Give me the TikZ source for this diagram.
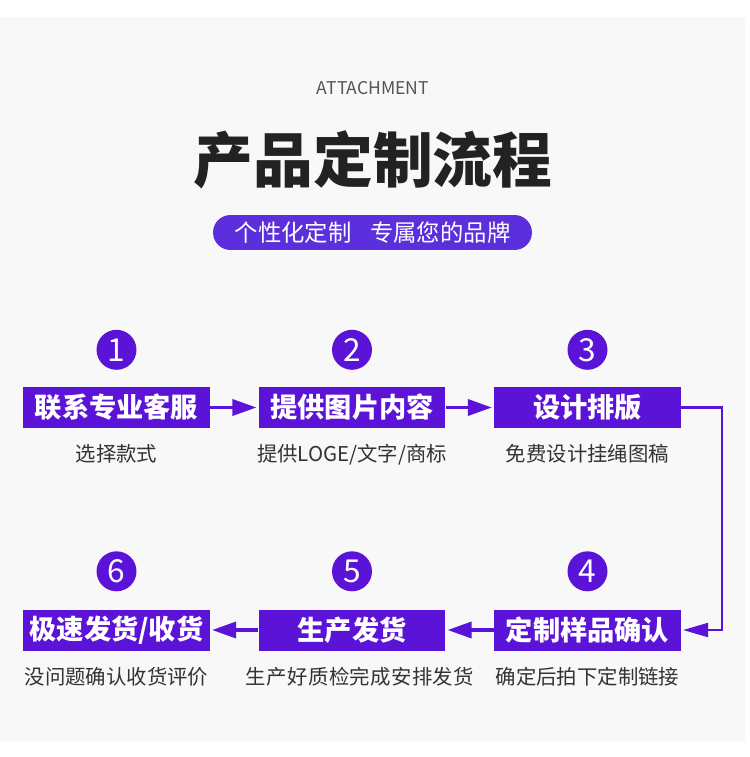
\documentclass[tikz,border=0pt]{standalone}
\usepackage{fontspec}
\setmainfont{Noto Sans CJK SC}
\usetikzlibrary{arrows.meta,positioning}

\definecolor{bgpanel}{HTML}{F8F8F8}
\definecolor{stepviolet}{HTML}{5C13D8}
\definecolor{pillviolet}{HTML}{5B2FDB}
\definecolor{titleink}{HTML}{222222}
\definecolor{attachink}{HTML}{555555}
\definecolor{labelink}{HTML}{333333}

\begin{document}
\begin{tikzpicture}[
  x=0.02cm, y=-0.02cm,
  stepbox/.style={fill=stepviolet, text=white, inner sep=0pt,
    minimum width=3.74cm, minimum height=0.82cm,
    font=\bfseries\fontsize{15.5pt}{18pt}\selectfont},
  stepnum/.style={circle, fill=stepviolet, text=white, inner sep=0pt,
    minimum size=0.8cm, font=\fontsize{18pt}{20pt}\selectfont},
  steplabel/.style={text=labelink, inner sep=0pt,
    font=\fontsize{11.6pt}{14pt}\selectfont},
  pill/.style={fill=pillviolet, text=white, rounded corners=0.35cm,
    minimum width=6.38cm, minimum height=0.7cm,
    font=\fontsize{13.3pt}{16pt}\selectfont},
  flowedge/.style={stepviolet, line width=2pt, shorten >=1pt,
    -{Triangle[length=0.48cm, width=0.32cm]}}
]
\useasboundingbox (0,0) rectangle (750,757);
\fill[white] (0,0) rectangle (750,757);
\fill[bgpanel] (0,17) rectangle (745,742);

% header
\node[text=attachink, font=\fontsize{10pt}{12pt}\selectfont] (attach) at (373,88) {ATTACHMENT};
\node[text=titleink, font=\bfseries\fontsize{34pt}{40pt}\selectfont] (title) at (373,160) {产品定制流程};
\node[pill] (slogan) at (372.5,232.5) {个性化定制\hspace{0.8em}专属您的品牌};

% first row
\node[stepbox] (contact) at (116.5,407.5) {联系专业客服};
\node[stepbox] (supply) at (352,407.5) {提供图片内容};
\node[stepbox] (design) at (587.5,407.5) {设计排版};
\node[stepnum, above=0.33cm of contact] (numa) {1};
\node[stepnum, above=0.33cm of supply] (numb) {2};
\node[stepnum, above=0.33cm of design] (numc) {3};
\node[steplabel, below=0.32cm of contact] (tipa) {选择款式};
\node[steplabel, below=0.32cm of supply] (tipb) {提供LOGE/文字/商标};
\node[steplabel, below=0.32cm of design] (tipc) {免费设计挂绳图稿};

% second row
\node[stepbox] (sample) at (587.5,630) {定制样品确认};
\node[stepbox] (produce) at (352,630) {生产发货};
\node[stepbox] (ship) at (116.5,630) {极速发货/收货};
\node[stepnum, above=0.35cm of sample] (numd) {4};
\node[stepnum, above=0.35cm of produce] (nume) {5};
\node[stepnum, above=0.35cm of ship] (numf) {6};
\node[steplabel, below=0.32cm of sample] (tipd) {确定后拍下定制链接};
\node[steplabel, below=0.32cm of produce, xshift=0.16cm, font=\addfontfeature{LetterSpace=2}\fontsize{11.6pt}{14pt}\selectfont] (tipe) {生产好质检完成安排发货};
\node[steplabel, below=0.32cm of ship] (tipf) {没问题确认收货评价};

% connectors
\draw[flowedge] (contact) -- (supply);
\draw[flowedge] (supply) -- (design);
\draw[flowedge, line width=1.2pt, -{Triangle[length=0.5cm, width=0.28cm]}] (design.east) -- ++(41,0) |- (sample.east);
\draw[flowedge] (sample) -- (produce);
\draw[flowedge] (produce) -- (ship);
\end{tikzpicture}
\end{document}
